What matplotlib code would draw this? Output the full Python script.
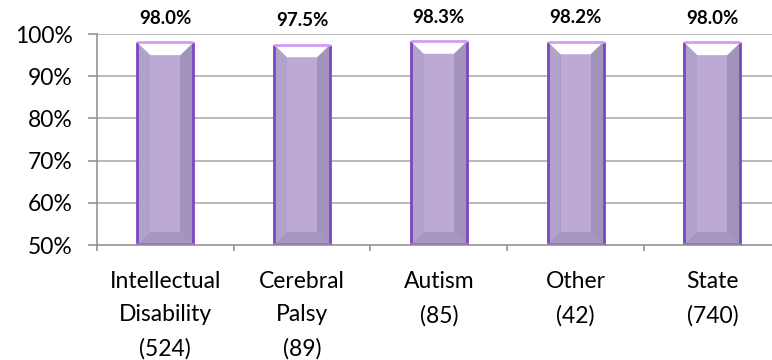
import matplotlib.pyplot as plt
from matplotlib.patches import Polygon, Rectangle
import numpy as np

# data
categories = ["Intellectual\nDisability\n(524)", "Cerebral\nPalsy\n(89)", "Autism\n(85)", "Other\n(42)", "State\n(740)"]
rates = [98.0, 97.5, 98.3, 98.2, 98.0]

plt.rcParams['font.family'] = ['Lato', 'DejaVu Sans']

fig = plt.figure(figsize=(7.72, 3.6), dpi=100)
ax = fig.add_axes([0.1256, 0.3194, 0.8857, 0.5861])

ymin, ymax = 50, 100
ax.set_ylim(ymin, ymax)
ax.set_xlim(-0.5, len(rates) - 0.5)

# gridlines
for v in range(60, 101, 10):
    ax.axhline(v, color='#a6a6a6', lw=1.1, zorder=0)

width = 0.41
bx = 0.095   # side bevel, category units
by = 3.0     # top/bottom bevel, percent units

for i, val in enumerate(rates):
    x0, x1 = i - width / 2, i + width / 2
    # outer body
    ax.add_patch(Rectangle((x0, ymin), width, val - ymin, fc='#a999c3', ec='none', zorder=2))
    # left / right bevel faces
    ax.add_patch(Polygon([(x0, ymin), (x0 + bx, ymin + by), (x0 + bx, val - by), (x0, val)],
                         fc='#b1a2cb', ec='none', zorder=3))
    ax.add_patch(Polygon([(x1, ymin), (x1 - bx, ymin + by), (x1 - bx, val - by), (x1, val)],
                         fc='#a193b9', ec='none', zorder=3))
    # bottom bevel
    ax.add_patch(Polygon([(x0, ymin), (x1, ymin), (x1 - bx, ymin + by), (x0 + bx, ymin + by)],
                         fc='#a597bf', ec='none', zorder=3))
    # inner face
    ax.add_patch(Rectangle((x0 + bx, ymin + by), width - 2 * bx, val - ymin - 2 * by,
                           fc='#bca9d6', ec='none', zorder=3))
    # top highlight
    ax.add_patch(Polygon([(x0, val), (x1, val), (x1 - bx, val - by), (x0 + bx, val - by)],
                         fc='white', ec='none', zorder=4))
    # outline
    ax.plot([x0, x0], [ymin, val], color='#7b47c2', lw=2, zorder=5, solid_capstyle='butt')
    ax.plot([x1, x1], [ymin, val], color='#7b47c2', lw=2, zorder=5, solid_capstyle='butt')
    ax.plot([x0, x1], [val, val], color='#d39df2', lw=2, zorder=5, solid_capstyle='butt')
    ax.plot([x0, x1], [ymin + 0.3, ymin + 0.3], color='#8f82a8', lw=1.5, zorder=5)
    ax.annotate(f"{val:.1f}%", (i, val), xytext=(0, 11), textcoords='offset points',
                ha='center', va='bottom', fontsize=13.5, fontweight='bold', color='black')

# axes styling
for s in ['top', 'right']:
    ax.spines[s].set_visible(False)
ax.spines['left'].set_color('#8c8c8c')
ax.spines['bottom'].set_color('#8c8c8c')
ax.spines['left'].set_linewidth(1.1)
ax.spines['bottom'].set_linewidth(1.1)

ax.set_yticks(range(50, 101, 10))
ax.set_yticklabels([f"{v}%" for v in range(50, 101, 10)])
ax.tick_params(axis='y', length=6.5, width=1.1, color='#8c8c8c', pad=11, labelsize=16.5)

ax.set_xticks(range(len(categories)))
ax.set_xticklabels(categories, linespacing=1.7)
ax.set_xticks(np.arange(-0.5, len(categories)), minor=True)
ax.tick_params(axis='x', which='major', length=0, pad=19, labelsize=16.5)
ax.tick_params(axis='x', which='minor', length=4, width=1.1, color='#8c8c8c')

fig.savefig("out.png", dpi=100)
